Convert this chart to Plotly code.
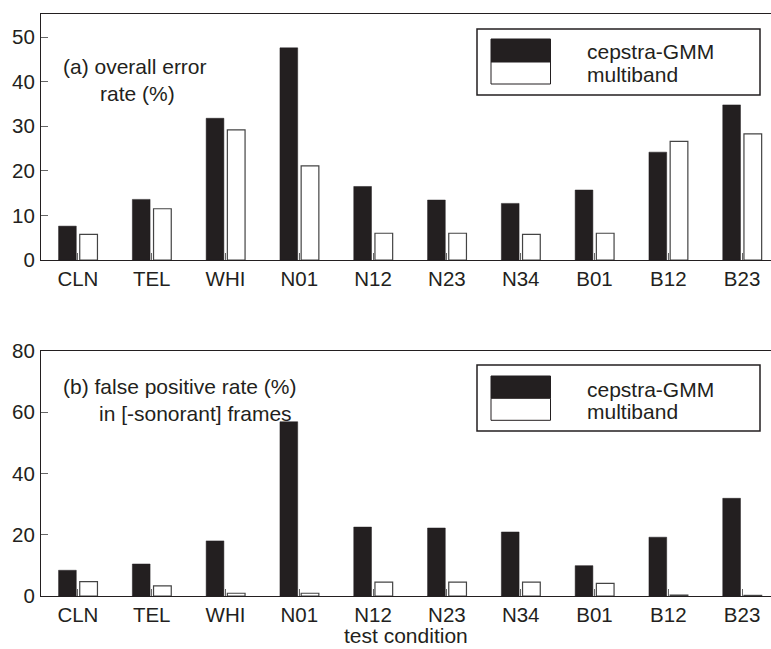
import plotly.graph_objects as go

conditions = ["CLN", "TEL", "WHI", "N01", "N12", "N23", "N34", "B01", "B12", "B23"]
err_cepstra = [7.6, 13.6, 31.8, 47.6, 16.5, 13.45, 12.7, 15.7, 24.2, 34.8]
err_multiband = [5.75, 11.5, 29.2, 21.1, 6.0, 6.0, 5.75, 6.0, 26.6, 28.3]
fp_cepstra = [8.4, 10.45, 18.0, 56.9, 22.5, 22.2, 20.9, 9.9, 19.2, 31.9]
fp_multiband = [4.7, 3.3, 0.9, 0.9, 4.5, 4.5, 4.5, 4.1, 0.3, 0.2]
series_names = ["cepstra-GMM", "multiband"]
y_ticks_a = [0, 10, 20, 30, 40, 50]
y_ticks_b = [0, 20, 40, 60, 80]

INK = "#231f20"
FONT = "Liberation Sans, Arial, Helvetica, sans-serif"
FS = 20.5
FS_TXT = 21
W, H = 771, 649
L, R = 41, 771
TOP_A, BOT_A = 14, 260
TOP_B, BOT_B = 351, 596

fig = go.Figure()

def add_pair(vals_c, vals_m, xa, ya):
    fig.add_trace(go.Bar(x=conditions, y=vals_c, name=series_names[0], xaxis=xa, yaxis=ya,
                         marker=dict(color=INK, line=dict(color=INK, width=0.5)),
                         width=0.24, offset=-0.262, showlegend=False))
    fig.add_trace(go.Bar(x=conditions, y=vals_m, name=series_names[1], xaxis=xa, yaxis=ya,
                         marker=dict(color="white", line=dict(color="#444", width=1.2)),
                         width=0.24, offset=0.025, showlegend=False))

add_pair(err_cepstra, err_multiband, "x", "y")
add_pair(fp_cepstra, fp_multiband, "x2", "y2")

ph = H - TOP_A - (H - BOT_B)
def pdom(top, bot):
    return [(BOT_B - bot) / ph, (BOT_B - top) / ph]

xrange_ = [-0.5, (R - L) / 73.8 - 0.5]
axis_common = dict(showline=True, linecolor=INK, linewidth=1.2, mirror=True,
                   showgrid=False, zeroline=False, automargin=False,
                   ticks="inside", ticklen=7, tickcolor="#666", tickwidth=1,
                   tickfont=dict(family=FONT, size=FS, color=INK))
fig.update_layout(
    width=W, height=H,
    margin=dict(l=L, r=W - R, t=TOP_A, b=H - BOT_B),
    paper_bgcolor="white", plot_bgcolor="white",
    barmode="overlay",
    font=dict(family=FONT, color=INK),
    xaxis=dict(**axis_common, domain=[0, 1], anchor="y", range=xrange_),
    yaxis=dict(**axis_common, domain=pdom(TOP_A, BOT_A), anchor="x", range=[0, 55.2],
               tickvals=y_ticks_a, ticklabelstandoff=1),
    xaxis2=dict(**axis_common, domain=[0, 1], anchor="y2", range=xrange_),
    yaxis2=dict(**axis_common, domain=pdom(TOP_B, BOT_B), anchor="x2", range=[0, 80],
                tickvals=y_ticks_b, ticklabelstandoff=1),
    showlegend=False,
)

def dx(px):
    return (px - L) / (R - L)

fig.add_annotation(x=0.5, y=0, xref="x2 domain", yref="paper", yshift=-(H - BOT_B) + 1,
                   text="test condition", showarrow=False, xanchor="center", yanchor="bottom",
                   borderpad=0, font=dict(family=FONT, size=FS_TXT, color=INK))

def add_panel_deco(xa, ya, top, bot, lines, leg_box, leg_black, leg_white, leg_txt):
    xr = f"{xa} domain"
    yr = f"{ya} domain"
    dy = lambda py: (bot - py) / (bot - top)
    for (tx, ty, txt) in lines:
        fig.add_annotation(x=dx(tx), y=dy(ty), xref=xr, yref=yr, text=txt, showarrow=False,
                           xanchor="left", yanchor="middle",
                           font=dict(family=FONT, size=FS_TXT, color=INK))
    x0, y0, x1, y1 = leg_box
    fig.add_shape(type="rect", xref=xr, yref=yr, x0=dx(x0), x1=dx(x1), y0=dy(y0), y1=dy(y1),
                  line=dict(color=INK, width=1.5), fillcolor="white")
    x0, y0, x1, y1 = leg_black
    fig.add_shape(type="rect", xref=xr, yref=yr, x0=dx(x0), x1=dx(x1), y0=dy(y0), y1=dy(y1),
                  line=dict(color=INK, width=1), fillcolor=INK)
    x0, y0, x1, y1 = leg_white
    fig.add_shape(type="rect", xref=xr, yref=yr, x0=dx(x0), x1=dx(x1), y0=dy(y0), y1=dy(y1),
                  line=dict(color=INK, width=1), fillcolor="white")
    for (tx, ty), name in zip(leg_txt, series_names):
        fig.add_annotation(x=dx(tx), y=dy(ty), xref=xr, yref=yr, text=name, showarrow=False,
                           xanchor="left", yanchor="middle",
                           font=dict(family=FONT, size=FS_TXT, color=INK))

add_panel_deco("x", "y", TOP_A, BOT_A,
               [(61, 66, "(a) overall error"), (98, 93, "rate (%)")],
               (477, 29, 760, 95), (491, 39, 550.5, 62), (491, 62, 550.5, 84),
               [(585, 52), (585, 74)])
add_panel_deco("x2", "y2", TOP_B, BOT_B,
               [(61, 387, "(b) false positive rate (%)"), (97, 414, "in [-sonorant] frames")],
               (477, 365, 760, 431), (491, 376, 550.5, 398.3), (491, 398.3, 550.5, 420.3),
               [(585, 390), (585, 411.7)])

fig.write_html("out.html", config={"displayModeBar": False},
               post_script="document.body.style.margin='0px';document.body.style.overflow='hidden';")
